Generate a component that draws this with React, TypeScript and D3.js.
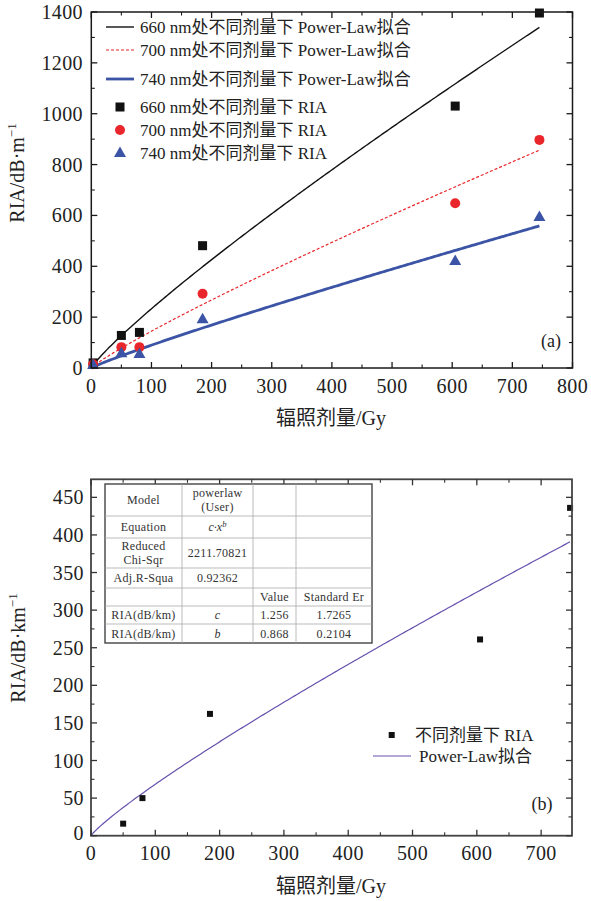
import React from "react";
import * as d3 from "d3";

// ---------- data (panel a) ----------
const dosesA = [3, 50, 80, 185, 605, 745];
const ria660 = [20, 128, 140, 481, 1030, 1396];
const ria700 = [15, 82, 82, 292, 648, 897];
const ria740 = [12, 58, 55, 192, 421, 594];
// power-law fit parameters (c, b)
const fitNamesA = ["660", "700", "740"];
const fitCA = [4.22, 2.46, 1.36];
const fitBA = [0.871, 0.885, 0.91];
const yTicksA = [0, 200, 400, 600, 800, 1000, 1200, 1400];
const xTicksA = [0, 100, 200, 300, 400, 500, 600, 700, 800];

// ---------- data (panel b) ----------
const dosesB = [50, 80, 185, 605, 745];
const riaB = [16, 50, 162, 261, 436];
const fitCB = 1.256;
const fitBB = 0.868;
const yTicksB = [0, 50, 100, 150, 200, 250, 300, 350, 400, 450];
const xTicksB = [0, 100, 200, 300, 400, 500, 600, 700];
const tableRows: string[][] = [
  ["Model", "powerlaw|(User)", "", ""],
  ["Equation", "c·x^b", "", ""],
  ["Reduced|Chi-Sqr", "2211.70821", "", ""],
  ["Adj.R-Squa", "0.92362", "", ""],
  ["", "", "Value", "Standard Er"],
  ["RIA(dB/km)", "c", "1.256", "1.7265"],
  ["RIA(dB/km)", "b", "0.868", "0.2104"],
];

const SERIF = "Liberation Serif, Times New Roman, Noto Sans CJK SC, serif";
const BLACK = "#111";
const RED = "#e8262b";
const BLUE = "#3b54a5";
const PURPLE = "#6650ad";

function Frame({ x0, x1, y0, y1, color, width }: any) {
  return (
    <rect x={x0} y={y1} width={x1 - x0} height={y0 - y1} fill="none" stroke={color} strokeWidth={width} />
  );
}

function Ticks({ xs, ys, xMajor, xMinor, yMajor, yMinor, color }: any) {
  const [x0, x1] = xs.range();
  const [y0, y1] = ys.range();
  const M = 6, m = 3.5;
  const els: any[] = [];
  xMajor.forEach((v: number, i: number) => {
    const x = xs(v);
    els.push(<line key={"xb" + i} x1={x} x2={x} y1={y0} y2={y0 - M} stroke={color} strokeWidth={1.3} />);
    els.push(<line key={"xt" + i} x1={x} x2={x} y1={y1} y2={y1 + M} stroke={color} strokeWidth={1.3} />);
  });
  xMinor.forEach((v: number, i: number) => {
    const x = xs(v);
    els.push(<line key={"xbm" + i} x1={x} x2={x} y1={y0} y2={y0 - m} stroke={color} strokeWidth={1.1} />);
    els.push(<line key={"xtm" + i} x1={x} x2={x} y1={y1} y2={y1 + m} stroke={color} strokeWidth={1.1} />);
  });
  yMajor.forEach((v: number, i: number) => {
    const y = ys(v);
    els.push(<line key={"yl" + i} x1={x0} x2={x0 + M} y1={y} y2={y} stroke={color} strokeWidth={1.3} />);
    els.push(<line key={"yr" + i} x1={x1} x2={x1 - M} y1={y} y2={y} stroke={color} strokeWidth={1.3} />);
  });
  yMinor.forEach((v: number, i: number) => {
    const y = ys(v);
    els.push(<line key={"ylm" + i} x1={x0} x2={x0 + m} y1={y} y2={y} stroke={color} strokeWidth={1.1} />);
    els.push(<line key={"yrm" + i} x1={x1} x2={x1 - m} y1={y} y2={y} stroke={color} strokeWidth={1.1} />);
  });
  return <g>{els}</g>;
}

function fitPath(xs: any, ys: any, c: number, b: number, xmax: number) {
  const pts = d3.range(0, 201).map((i) => (i / 200) * xmax);
  const line = d3
    .line<number>()
    .x((d) => xs(d))
    .y((d) => ys(c * Math.pow(d, b)));
  return line(pts) || "";
}

function tri(cx: number, cy: number, s: number) {
  const h = s * 0.87;
  return `M${cx},${cy - h * 0.62} L${cx + s / 2},${cy + h * 0.38} L${cx - s / 2},${cy + h * 0.38} Z`;
}

const T = { fontFamily: SERIF, fill: "#222" };

function PanelA() {
  const xs = d3.scaleLinear().domain([0, 800]).range([91.3, 572.5]);
  const ys = d3.scaleLinear().domain([0, 1400]).range([368, 12]);
  const colors = [BLACK, RED, BLUE];
  const widths = [1.4, 1.2, 2.8];
  const dashes = [undefined, "3,2", undefined];
  const legendX = 140;
  const lineRows = [27, 50, 79];
  const markRows = [107, 130, 153];
  const sq = 9;
  return (
    <g>
      {fitNamesA.map((n, i) => (
        <path key={n} d={fitPath(xs, ys, fitCA[i], fitBA[i], 745)} fill="none" stroke={colors[i]} strokeWidth={widths[i]} strokeDasharray={dashes[i]} />
      ))}
      {dosesA.map((d, i) => (
        <rect key={"s" + i} x={xs(d) - sq / 2} y={ys(ria660[i]) - sq / 2} width={sq} height={sq} fill={BLACK} />
      ))}
      {dosesA.map((d, i) => (
        <circle key={"c" + i} cx={xs(d)} cy={ys(ria700[i])} r={5} fill={RED} />
      ))}
      {dosesA.map((d, i) => (
        <path key={"t" + i} d={tri(xs(d), ys(ria740[i]), 12)} fill={BLUE} />
      ))}
      <Frame x0={91.3} x1={572.5} y0={368} y1={12} color="#1a1a1a" width={1.5} />
      <Ticks xs={xs} ys={ys} xMajor={xTicksA} xMinor={d3.range(50, 800, 100)} yMajor={yTicksA} yMinor={d3.range(100, 1400, 200)} color="#1a1a1a" />
      {yTicksA.map((v) => (
        <text key={"yl" + v} x={83} y={ys(v)} dy="0.35em" textAnchor="end" fontSize={20} letterSpacing={0.4} style={T}>{v}</text>
      ))}
      {xTicksA.map((v) => (
        <text key={"xl" + v} x={xs(v)} y={386} dy="0.35em" textAnchor="middle" fontSize={20} letterSpacing={0.4} style={T}>{v}</text>
      ))}
      <text transform="translate(24,173) rotate(-90)" textAnchor="middle" fontSize={20} style={T}>
        RIA/dB·m<tspan fontSize={13} dy={-8}>−1</tspan>
      </text>
      <text x={331} y={418} dy="0.35em" textAnchor="middle" fontSize={20} style={T}>辐照剂量/Gy</text>
      <text x={551} y={341} dy="0.35em" textAnchor="middle" fontSize={18} style={T}>(a)</text>
      {fitNamesA.map((n, i) => (
        <g key={"lg" + n}>
          <line x1={106} x2={134} y1={lineRows[i]} y2={lineRows[i]} stroke={colors[i]} strokeWidth={widths[i]} strokeDasharray={dashes[i]} />
          <text x={legendX} y={lineRows[i]} dy="0.35em" fontSize={17} style={T}>{n} nm处不同剂量下 Power-Law拟合</text>
        </g>
      ))}
      <rect x={120 - 4.5} y={markRows[0] - 4.5} width={9} height={9} fill={BLACK} />
      <circle cx={120} cy={markRows[1]} r={5} fill={RED} />
      <path d={tri(120, markRows[2], 12)} fill={BLUE} />
      {fitNamesA.map((n, i) => (
        <text key={"lm" + n} x={legendX} y={markRows[i]} dy="0.35em" fontSize={17} style={T}>{n} nm处不同剂量下 RIA</text>
      ))}
    </g>
  );
}

function Table() {
  const cols = [105, 182, 253, 296, 372];
  const rows = [484, 516, 538, 568, 588, 606, 624, 643];
  const cells: any[] = [];
  const TT = { fontFamily: SERIF, fill: "#333" };
  const fs = 12;
  tableRows.forEach((r, ri) => {
    r.forEach((txt, ci) => {
      if (!txt) return;
      const cx = (cols[ci] + cols[ci + 1]) / 2;
      const cy = (rows[ri] + rows[ri + 1]) / 2;
      const italic = ci === 1 && (txt === "c" || txt === "b");
      if (txt.includes("|")) {
        const [a, b] = txt.split("|");
        cells.push(
          <text key={ri + "-" + ci} x={cx} y={cy} textAnchor="middle" fontSize={fs} letterSpacing={0.3} style={TT}>
            <tspan x={cx} dy="-0.25em">{a}</tspan>
            <tspan x={cx} dy="1.15em">{b}</tspan>
          </text>
        );
      } else if (txt.includes("^")) {
        const [a, b] = txt.split("^");
        cells.push(
          <text key={ri + "-" + ci} x={cx} y={cy} dy="0.35em" textAnchor="middle" fontSize={fs} fontStyle="italic" style={TT}>
            {a}<tspan fontSize={8.5} dy={-4}>{b}</tspan>
          </text>
        );
      } else {
        cells.push(
          <text key={ri + "-" + ci} x={cx} y={cy} dy="0.35em" textAnchor="middle" fontSize={fs} letterSpacing={italic ? 0 : 0.3} fontStyle={italic ? "italic" : "normal"} style={TT}>{txt}</text>
        );
      }
    });
  });
  return (
    <g>
      <rect x={cols[0]} y={rows[0]} width={cols[4] - cols[0]} height={rows[7] - rows[0]} fill="#fff" stroke="#444" strokeWidth={1.4} />
      {rows.slice(1, -1).map((y, i) => (
        <line key={"r" + i} x1={cols[0]} x2={cols[4]} y1={y} y2={y} stroke="#aaa" strokeWidth={0.8} />
      ))}
      {cols.slice(1, -1).map((x, i) => (
        <line key={"c" + i} x1={x} x2={x} y1={rows[0]} y2={rows[7]} stroke="#aaa" strokeWidth={0.8} />
      ))}
      {cells}
    </g>
  );
}

function PanelB() {
  const xs = d3.scaleLinear().domain([0, 748]).range([91, 572]);
  const ys = d3.scaleLinear().domain([0, 474]).range([835.7, 479.3]);
  const sq = 6;
  return (
    <g>
      <path d={fitPath(xs, ys, fitCB, fitBB, 745)} fill="none" stroke={PURPLE} strokeWidth={1.2} />
      {dosesB.map((d, i) => (
        <rect key={"b" + i} x={xs(d) - sq / 2} y={ys(riaB[i]) - sq / 2} width={sq} height={sq} fill={BLACK} />
      ))}
      <Frame x0={91} x1={572} y0={835.7} y1={479.3} color="#444" width={1.8} />
      <Ticks xs={xs} ys={ys} xMajor={xTicksB} xMinor={d3.range(50, 748, 100)} yMajor={yTicksB} yMinor={d3.range(25, 474, 50)} color="#333" />
      <Table />
      {yTicksB.map((v) => (
        <text key={"yl" + v} x={84} y={v === 0 ? ys(v) - 3 : ys(v)} dy="0.35em" textAnchor="end" fontSize={20} letterSpacing={0.4} style={T}>{v}</text>
      ))}
      {xTicksB.map((v) => (
        <text key={"xl" + v} x={xs(v)} y={853} dy="0.35em" textAnchor="middle" fontSize={20} letterSpacing={0.4} style={T}>{v}</text>
      ))}
      <text transform="translate(25,648) rotate(-90)" textAnchor="middle" fontSize={20} style={T}>
        RIA/dB·km<tspan fontSize={13} dy={-8}>−1</tspan>
      </text>
      <text x={331} y={886} dy="0.35em" textAnchor="middle" fontSize={20} style={T}>辐照剂量/Gy</text>
      <text x={542} y={804} dy="0.35em" textAnchor="middle" fontSize={18} style={T}>(b)</text>
      <rect x={391.7 - 3} y={735 - 3} width={6} height={6} fill={BLACK} />
      <text x={415} y={735} dy="0.35em" fontSize={17} style={T}>不同剂量下 RIA</text>
      <line x1={373} x2={411} y1={756} y2={756} stroke={PURPLE} strokeWidth={1.2} />
      <text x={419} y={756} dy="0.35em" fontSize={17} style={T}>Power-Law拟合</text>
    </g>
  );
}

export default function App() {
  return (
    <svg width={591} height={901} viewBox="0 0 591 901" style={{ display: "block", position: "absolute", left: 0, top: 0, background: "#fff" }}>
      <rect x={0} y={0} width={591} height={901} fill="#fff" />
      <PanelA />
      <PanelB />
    </svg>
  );
}
